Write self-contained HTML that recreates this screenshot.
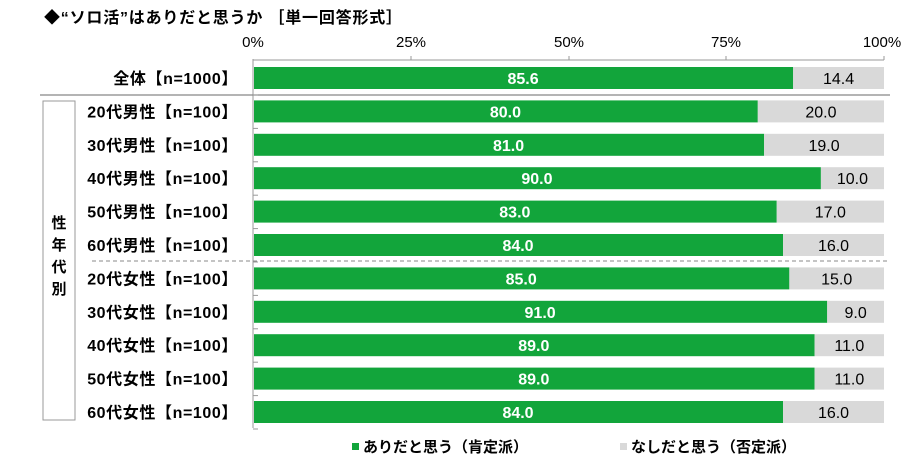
<!DOCTYPE html>
<html><head><meta charset="utf-8"><style>
body{margin:0;background:#fff}
svg{display:block}
text{font-family:"Liberation Sans","Noto Sans CJK JP",sans-serif}
</style></head><body>
<svg width="912" height="466" xmlns="http://www.w3.org/2000/svg">
<text x="44" y="23" font-size="16" font-weight="bold" fill="#000" letter-spacing="0.8">◆“ソロ活”はありだと思うか ［単一回答形式］</text>
<g font-size="15" fill="#000" text-anchor="middle">
<text x="253" y="47">0%</text><text x="411" y="47">25%</text><text x="569" y="47">50%</text><text x="726" y="47">75%</text><text x="882" y="47">100%</text>
</g>
<line x1="253" y1="59" x2="253" y2="428" stroke="#999" stroke-width="1"/>
<line x1="253" y1="60" x2="884" y2="60" stroke="#999" stroke-width="1"/>
<g stroke="#999"><line x1="411" y1="56" x2="411" y2="60"/><line x1="569" y1="56" x2="569" y2="60"/><line x1="726" y1="56" x2="726" y2="60"/><line x1="884" y1="56" x2="884" y2="60"/></g>
<line x1="40" y1="95" x2="890" y2="95" stroke="#888" stroke-width="1.2"/>
<line x1="92" y1="261" x2="890" y2="261" stroke="#888" stroke-width="1" stroke-dasharray="4,3"/>
<rect x="43" y="101" width="32" height="319" fill="none" stroke="#999" stroke-width="1"/>
<g font-size="15" font-weight="bold" text-anchor="middle"><text x="59" y="228">性</text><text x="59" y="250">年</text><text x="59" y="272">代</text><text x="59" y="294">別</text></g>
<g id="bars" font-size="15" font-weight="bold"></g>
<rect x="352" y="443" width="7" height="7" fill="#12A53B"/>
<text x="363" y="452" font-size="15" font-weight="bold">ありだと思う（肯定派）</text>
<rect x="620" y="443" width="7" height="7" fill="#D9D9D9"/>
<text x="631" y="452" font-size="15" font-weight="bold">なしだと思う（否定派）</text>
</svg>
<script>
var labels=["全体【n=1000】","20代男性【n=100】","30代男性【n=100】","40代男性【n=100】","50代男性【n=100】","60代男性【n=100】","20代女性【n=100】","30代女性【n=100】","40代女性【n=100】","50代女性【n=100】","60代女性【n=100】"];
var v=[85.6,80,81,90,83,84,85,91,89,89,84];
var g=document.getElementById('bars'),s="";
for(var i=0;i<11;i++){var y=67+i*33.4,w=631*v[i]/100,n=(100-v[i]);
s+='<rect x="254" y="'+y+'" width="'+(w-1)+'" height="22" fill="#12A53B"/>';
s+='<rect x="'+(253+w)+'" y="'+y+'" width="'+(631-w)+'" height="22" fill="#D9D9D9"/>';
s+='<text x="'+(253+w/2)+'" y="'+(y+17)+'" fill="#fff" font-size="16" text-anchor="middle">'+v[i].toFixed(1)+'</text>';
s+='<text x="'+(253+w+(631-w)/2)+'" y="'+(y+17)+'" fill="#000" font-weight="normal" font-size="16" text-anchor="middle">'+n.toFixed(1)+'</text>';
s+='<text x="238" y="'+(y+17)+'" fill="#000" font-size="16" letter-spacing="0.6" text-anchor="end">'+labels[i]+'</text>';
s+='<line x1="253" y1="'+(y+28)+'" x2="258" y2="'+(y+28)+'" stroke="#999"/>';}
g.innerHTML=s;
</script>
</body></html>
